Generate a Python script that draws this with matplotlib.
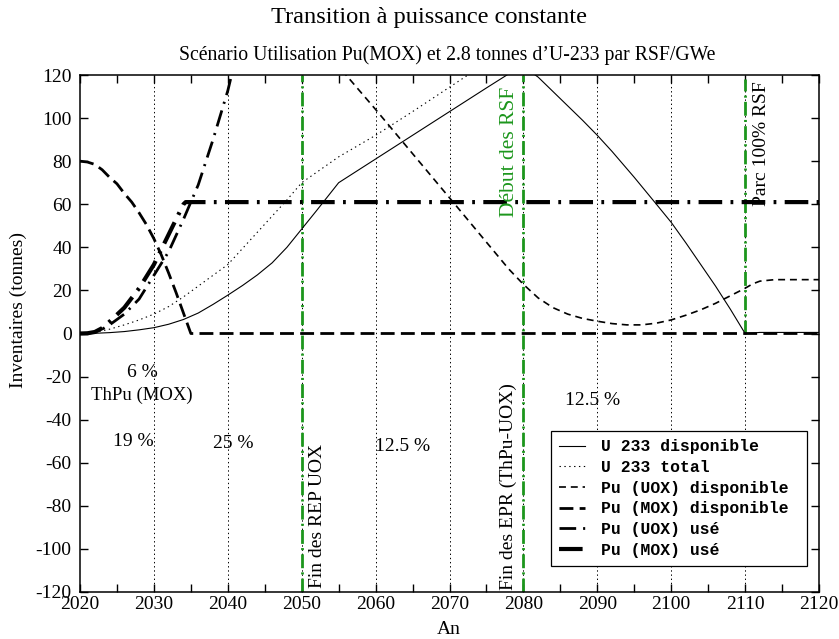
import matplotlib
matplotlib.use("Agg")
import matplotlib.pyplot as plt

plt.rcParams["font.family"] = ["Liberation Serif", "DejaVu Serif"]
plt.rcParams["axes.unicode_minus"] = False
plt.rcParams["lines.scale_dashes"] = False

GREEN = "#1c961c"

# U 233 disponible
u233_disp_x = [2020, 2022, 2024, 2026, 2028, 2030, 2032, 2034, 2036, 2038, 2040, 2042, 2044,
               2046, 2048, 2050, 2052, 2055, 2060, 2070, 2075, 2078, 2080, 2082, 2085,
               2088, 2090, 2092, 2095, 2098, 2100, 2102, 2104, 2106, 2108, 2110, 2112, 2120]
u233_disp_y = [0, 0.1, 0.4, 0.9, 1.7, 2.7, 4.3, 6.5, 9.5, 13.5, 17.8, 22.3, 27.2,
               32.8, 40, 48.5, 57, 70, 81, 103, 114, 120.5, 124, 119, 109,
               99, 92, 84.5, 72.5, 60, 51.6, 42, 32, 22, 11.3, 0, 0.5, 0.5]

# U 233 total
u233_tot_x = [2020, 2022, 2024, 2026, 2028, 2030, 2032, 2034, 2036, 2038, 2040, 2042, 2044,
              2046, 2048, 2050, 2055, 2060, 2065, 2072.5, 2080, 2120]
u233_tot_y = [0, 0.5, 2, 4, 6.3, 9, 12.5, 17, 22, 27, 32, 39.5, 47,
              54.5, 62, 70, 82, 92, 103, 120, 135, 170]

# Pu (UOX) disponible
pu_uox_disp_x = [2020, 2050, 2056, 2060, 2070, 2078, 2080, 2082, 2084, 2086, 2088, 2090,
                 2092, 2094, 2096, 2098, 2100, 2102, 2104, 2106, 2108, 2110, 2111,
                 2112, 2114, 2120]
pu_uox_disp_y = [260, 144, 120, 104, 63, 30, 22.8, 16.5, 12, 9, 7, 5.7,
                 4.6, 4, 4, 4.8, 6.3, 8.5, 11, 14, 17.5, 21, 23,
                 24.3, 25, 25]

# Pu (MOX) disponible
pu_mox_disp_x = [2020, 2021, 2022, 2023, 2024, 2025, 2026, 2027, 2028, 2029, 2030, 2031,
                 2032, 2033, 2034, 2035, 2120]
pu_mox_disp_y = [80, 79.6, 78.5, 76, 72.5, 69.5, 65, 61, 56, 50.5, 44, 36.5,
                 28, 19, 9.5, 0, 0]

# Pu (UOX) usé
pu_uox_use_x = [2020, 2021, 2022, 2023, 2024, 2026, 2028, 2030, 2032, 2034, 2036, 2038,
                2040, 2041, 2045, 2120]
pu_uox_use_y = [0, 0.1, 0.6, 2, 4, 9, 16, 27, 38, 53, 69, 90,
                112.7, 127, 180, 400]

# Pu (MOX) usé
pu_mox_use_x = [2020, 2021, 2022, 2023, 2024, 2026, 2028, 2030, 2032, 2034, 2034.3, 2120]
pu_mox_use_y = [0, 0.1, 0.7, 2.5, 5.5, 12, 21, 32, 46, 60, 61, 61]

grid_years = [2030, 2040, 2050, 2060, 2070, 2080, 2090, 2100, 2110]

fig = plt.figure(figsize=(8.39, 6.39), dpi=100)
ax = fig.add_axes([80 / 839, 1 - 592 / 639, 739 / 839, 517 / 639])

for yr in grid_years:
    ax.axvline(yr, color="black", lw=0.7, ls=(0, (1, 2)), zorder=1)

ax.axvline(2050, color=GREEN, lw=2, ls=(0, (10, 3, 1.5, 3)), zorder=2)
ax.axvline(2080, color=GREEN, lw=2, ls=(0, (10, 3, 1.5, 3)), zorder=2)
ax.plot([2110, 2110], [0, 118], color=GREEN, lw=2, ls=(0, (10, 3, 1.5, 3)), zorder=2)

ax.plot(u233_disp_x, u233_disp_y, color="black", lw=0.8, label="U 233 disponible", zorder=3)
ax.plot(u233_tot_x, u233_tot_y, color="black", lw=0.8, ls=(0, (1, 2.5)),
        label="U 233 total", zorder=3)
ax.plot(pu_uox_disp_x, pu_uox_disp_y, color="black", lw=1.2, ls=(0, (5, 3.5)),
        label="Pu (UOX) disponible ", zorder=3)
ax.plot(pu_mox_disp_x, pu_mox_disp_y, color="black", lw=2, ls=(0, (10, 4.5)),
        label="Pu (MOX) disponible ", zorder=3)
ax.plot(pu_uox_use_x, pu_uox_use_y, color="black", lw=2, ls=(0, (12, 5, 1.5, 5)),
        label="Pu (UOX) usé", zorder=3)
ax.plot(pu_mox_use_x, pu_mox_use_y, color="black", lw=3, ls=(0, (17, 6, 2, 6)),
        label="Pu (MOX) usé", zorder=3)

ax.set_xlim(2020, 2120)
ax.set_ylim(-120, 120)
ax.set_xticks(range(2020, 2121, 10))
ax.set_xticks(range(2025, 2121, 10), minor=True)
ax.set_yticks(range(-120, 121, 20))
ax.tick_params(which="both", direction="in", top=True, right=True, labelsize=14,
               length=6, width=1)
ax.tick_params(axis="y", pad=6)
ax.tick_params(axis="x", pad=3)
for s in ax.spines.values():
    s.set_linewidth(1.1)

# annotations
ax.text(2028.5, -18, "6 %", fontsize=14, ha="center", va="center")
ax.text(2028.3, -28.5, "ThPu (MOX)", fontsize=13.5, ha="center", va="center")
ax.text(2027.2, -50, "19 %", fontsize=14, ha="center", va="center")
ax.text(2040.8, -51, "25 %", fontsize=14, ha="center", va="center")
ax.text(2063.7, -52.5, "12.5 %", fontsize=14, ha="center", va="center")
ax.text(2089.3, -31, "12.5 %", fontsize=14, ha="center", va="center")
ax.text(2052.1, -118, "Fin des REP UOX", fontsize=14, rotation=90,
        ha="center", va="bottom")
ax.text(2077.9, -119, "Fin des EPR (ThPu-UOX)", fontsize=14, rotation=90,
        ha="center", va="bottom")
ax.text(2078.1, 54, "Début des RSF", fontsize=15.5, rotation=90, color=GREEN,
        ha="center", va="bottom")
ax.text(2112.2, 59, "Parc 100% RSF", fontsize=14, rotation=90,
        ha="center", va="bottom")

leg = ax.legend(loc="lower right", bbox_to_anchor=(0.984, 0.05), borderaxespad=0,
                prop={"family": "Liberation Mono", "weight": "bold", "size": 11.8},
                fancybox=False, edgecolor="black", framealpha=1,
                handlelength=1.6, handletextpad=1.0, labelspacing=0.35,
                borderpad=0.5)
leg.get_frame().set_linewidth(0.9)

fig.text(429 / 839, 1 - 18 / 639, "Transition à puissance constante", fontsize=17.6,
         ha="center", va="center")
fig.text(447.5 / 839, 1 - 55 / 639,
         "Scénario Utilisation Pu(MOX) et 2.8 tonnes d\u2019U-233 par RSF/GWe",
         fontsize=14.2, ha="center", va="center")
fig.text(449 / 839, 1 - 630 / 639, "An", fontsize=14, ha="center", va="center")
fig.text(18 / 839, 1 - 310 / 639, "Inventaires (tonnes)", fontsize=14,
         rotation=90, ha="center", va="center")

fig.savefig("out.png", dpi=100)
